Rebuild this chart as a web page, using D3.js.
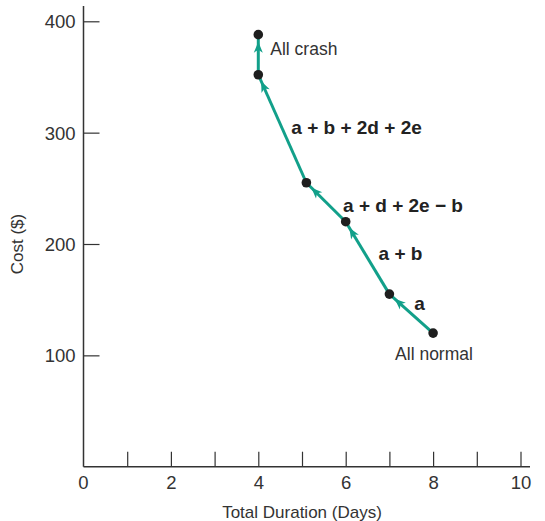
<!DOCTYPE html>
<html>
<head>
<meta charset="utf-8">
<script src="https://cdn.jsdelivr.net/npm/d3@7"></script>
<style>
  body { margin: 0; background: #fff; }
  text { font-family: "Liberation Sans", Arial, sans-serif; }
</style>
</head>
<body>
<svg id="chart" width="545" height="521"></svg>
<script>
// crash path, from all normal to all crash
var days = [8, 7, 6, 5.1, 4, 4];
var costs = [120, 155, 220, 255, 352, 388];
var segmentLabels = ["a", "a + b", "a + d + 2e \u2212 b", "a + b + 2d + 2e", ""];
var xTicks = [1, 2, 3, 4, 5, 6, 7, 8, 9, 10];
var yTicks = [100, 200, 300, 400];

var teal = "#12a08a",
    ink = "#333";

var svg = d3.select("#chart");

var x = d3.scaleLinear().domain([0, 10]).range([83.5, 520.5]);
var y = d3.scaleLinear().domain([0, 400]).range([466.7, 21.3]);

var points = days.map(function(d, i) { return {x: d, y: costs[i]}; });

// axes
var xAxis = d3.axisBottom(x)
    .tickValues(xTicks)
    .tickSize(-15)
    .tickPadding(22)
    .tickFormat(function(d) { return d % 2 === 0 ? d : ""; });

var gx = svg.append("g")
    .attr("transform", "translate(0," + y(0) + ")")
    .call(xAxis);
gx.select(".domain").remove();
gx.selectAll("line").attr("stroke", ink).attr("stroke-width", 1.2);
gx.selectAll("text").attr("font-size", 18.5).attr("fill", ink).attr("dy", 0);

// "0" label under the origin
svg.append("text")
    .attr("x", x(0))
    .attr("y", y(0) + 22)
    .attr("text-anchor", "middle")
    .attr("font-size", 18.5)
    .attr("fill", ink)
    .text("0");

var yAxis = d3.axisLeft(y)
    .tickValues(yTicks)
    .tickSize(-16)
    .tickPadding(8);

var gy = svg.append("g")
    .attr("transform", "translate(" + x(0) + ",0)")
    .call(yAxis);
gy.select(".domain").remove();
gy.selectAll("line").attr("stroke", ink).attr("stroke-width", 1.2);
gy.selectAll("text").attr("font-size", 18.5).attr("fill", ink).attr("dy", "0.35em");

svg.append("line")
    .attr("x1", x(0)).attr("x2", 530)
    .attr("y1", y(0)).attr("y2", y(0))
    .attr("stroke", ink).attr("stroke-width", 1.5);
svg.append("line")
    .attr("x1", x(0)).attr("x2", x(0))
    .attr("y1", y(0)).attr("y2", 6)
    .attr("stroke", ink).attr("stroke-width", 1.5);

// axis titles
svg.append("text")
    .attr("x", x(5))
    .attr("y", 518)
    .attr("text-anchor", "middle")
    .attr("font-size", 17)
    .attr("fill", ink)
    .text("Total Duration (Days)");

svg.append("text")
    .attr("transform", "translate(23," + y(200) + ") rotate(-90)")
    .attr("text-anchor", "middle")
    .attr("font-size", 17)
    .attr("fill", ink)
    .text("Cost ($)");

// arrowhead
svg.append("defs").append("marker")
    .attr("id", "head")
    .attr("markerUnits", "userSpaceOnUse")
    .attr("viewBox", "-2 -6 22 12")
    .attr("markerWidth", 22)
    .attr("markerHeight", 12)
    .attr("refX", 18)
    .attr("refY", 0)
    .attr("orient", "auto")
  .append("path")
    .attr("d", "M0,-4.5 L11,0 L0,4.5 L3,0 Z")
    .attr("fill", teal);

var segs = d3.pairs(points);

svg.selectAll(".seg")
    .data(segs)
  .enter().append("line")
    .attr("class", "seg")
    .attr("x1", function(d) { return x(d[0].x); })
    .attr("y1", function(d) { return y(d[0].y); })
    .attr("x2", function(d) { return x(d[1].x); })
    .attr("y2", function(d) { return y(d[1].y); })
    .attr("stroke", teal)
    .attr("stroke-width", 3)
    .attr("marker-end", "url(#head)");

svg.selectAll(".dot")
    .data(points)
  .enter().append("circle")
    .attr("class", "dot")
    .attr("cx", function(d) { return x(d.x); })
    .attr("cy", function(d) { return y(d.y); })
    .attr("r", 4.8)
    .attr("fill", "#1e1e1e");

// segment labels, nudged off the midpoint of each segment
var labelNudge = [[3, -4], [11, 2], [17, 10], [9, 5.5], [0, 0]];

svg.selectAll(".seglabel")
    .data(segs)
  .enter().append("text")
    .attr("class", "seglabel")
    .attr("x", function(d, i) { return (x(d[0].x) + x(d[1].x)) / 2 + labelNudge[i][0]; })
    .attr("y", function(d, i) { return (y(d[0].y) + y(d[1].y)) / 2 + labelNudge[i][1]; })
    .attr("font-size", 19)
    .attr("font-weight", "bold")
    .attr("fill", "#222")
    .text(function(d, i) { return segmentLabels[i]; });

var first = points[0], last = points[points.length - 1];

svg.append("text")
    .attr("x", x(first.x) - 38)
    .attr("y", y(first.y) + 27)
    .attr("font-size", 17.5)
    .attr("fill", ink)
    .text("All normal");

svg.append("text")
    .attr("x", x(last.x) + 12)
    .attr("y", y(last.y) + 20)
    .attr("font-size", 17.5)
    .attr("fill", ink)
    .text("All crash");
</script>
</body>
</html>
